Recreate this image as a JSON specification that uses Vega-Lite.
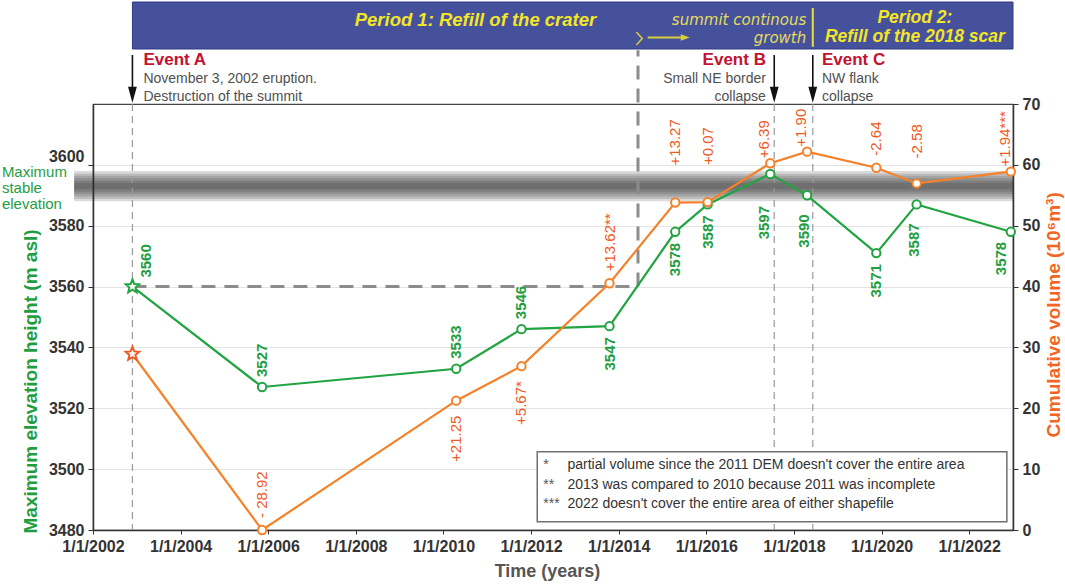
{
  "$schema": "https://vega.github.io/schema/vega-lite/v6.json",
  "width": 920,
  "height": 426,
  "autosize": {"type": "none"},
  "padding": {"left": 93, "top": 104, "right": 52, "bottom": 54},
  "background": "white",
  "config": {
    "font": "Liberation Sans",
    "view": {"stroke": "#444", "strokeWidth": 1.2},
    "axisX": {
      "labelFontSize": 16, "labelFontWeight": "bold", "labelColor": "#333",
      "labelDx": 20, "labelPadding": 4, "labelFlush": false, "labelOverlap": false, "labelBound": false,
      "tickSize": 4, "tickColor": "#333", "domainColor": "#333", "domainWidth": 1.5, "grid": false,
      "titleFontSize": 18, "titleFontWeight": "bold", "titleColor": "#555",
      "titleX": 454, "titleY": 41, "titleBaseline": "middle"
    }
  },
  "datasets": {
    "pts": [
      {"id": 1, "t": 2002.90, "elev": 3560, "vol": 28.92, "volLabel": ""},
      {"id": 2, "t": 2005.86, "elev": 3527, "vol": 0, "volLabel": "- 28.92"},
      {"id": 3, "t": 2010.29, "elev": 3533, "vol": 21.25, "volLabel": "+21.25"},
      {"id": 4, "t": 2011.78, "elev": 3546, "vol": 26.92, "volLabel": "+5.67*"},
      {"id": 5, "t": 2013.79, "elev": 3547, "vol": 40.54, "volLabel": "+13.62**"},
      {"id": 6, "t": 2015.29, "elev": 3578, "vol": 53.81, "volLabel": "+13.27"},
      {"id": 7, "t": 2016.03, "elev": 3587, "vol": 53.88, "volLabel": "+0.07"},
      {"id": 8, "t": 2017.46, "elev": 3597, "vol": 60.27, "volLabel": "+6.39"},
      {"id": 9, "t": 2018.30, "elev": 3590, "vol": 62.17, "volLabel": "+1.90"},
      {"id": 10, "t": 2019.88, "elev": 3571, "vol": 59.53, "volLabel": "-2.64"},
      {"id": 11, "t": 2020.80, "elev": 3587, "vol": 56.95, "volLabel": "-2.58"},
      {"id": 12, "t": 2022.95, "elev": 3578, "vol": 58.89, "volLabel": "+1.94***"}
    ],
    "events": [
      {"event": "A", "t": 2002.90},
      {"event": "B", "t": 2017.55},
      {"event": "C", "t": 2018.43}
    ],
    "band": [
      {"t1": 2001.57, "t2": 2023.0, "lo": 3588.0, "hi": 3598.0},
      {"t1": 2001.57, "t2": 2023.0, "lo": 3588.8, "hi": 3597.2},
      {"t1": 2001.57, "t2": 2023.0, "lo": 3589.6, "hi": 3596.4},
      {"t1": 2001.57, "t2": 2023.0, "lo": 3590.4, "hi": 3595.6},
      {"t1": 2001.57, "t2": 2023.0, "lo": 3591.2, "hi": 3594.8},
      {"t1": 2001.57, "t2": 2023.0, "lo": 3592.0, "hi": 3594.0}
    ],
    "boxes": [
      {"kind": "footbox", "t1": 2012.14, "t2": 2022.86, "lo": 3482.73, "hi": 3505.73},
      {"kind": "banner", "t1": 2002.90, "t2": 2023.0, "lo": 3638.07, "hi": 3653.52}
    ],
    "segs": [
      {"kind": "period", "t1": 2002.90, "t2": 2014.44, "y1": 3560, "y2": 3560},
      {"kind": "period", "t1": 2014.44, "t2": 2014.44, "y1": 3560, "y2": 3637.7},
      {"kind": "divider", "t1": 2018.43, "t2": 2018.43, "y1": 3638.8, "y2": 3651.55},
      {"kind": "barrow", "t1": 2014.66, "t2": 2015.49, "y1": 3641.85, "y2": 3641.85},
      {"kind": "earrow", "t1": 2002.90, "t2": 2002.90, "y1": 3636.1, "y2": 3624.5},
      {"kind": "earrow", "t1": 2017.55, "t2": 2017.55, "y1": 3636.1, "y2": 3624.5},
      {"kind": "earrow", "t1": 2018.43, "t2": 2018.43, "y1": 3636.1, "y2": 3624.5}
    ],
    "symbols": [
      {"kind": "ehead", "t": 2002.90, "v": 3623.0},
      {"kind": "ehead", "t": 2017.55, "v": 3623.0},
      {"kind": "ehead", "t": 2018.43, "v": 3623.0},
      {"kind": "bhead", "t": 2015.52, "v": 3641.85},
      {"kind": "chev", "t": 2014.47, "v": 3641.52}
    ],
    "notes": [
      {"kind": "p1", "t": 2010.73, "v": 3647.6, "text": "Period 1: Refill of the crater"},
      {"kind": "p2", "t": 2020.76, "v": 3648.26, "text": "Period 2:"},
      {"kind": "p2", "t": 2020.76, "v": 3642.02, "text": "Refill of the 2018 scar"},
      {"kind": "grow", "t": 2018.28, "v": 3647.6, "text": "summit continous"},
      {"kind": "grow", "t": 2018.28, "v": 3641.69, "text": "growth"},
      {"kind": "evL", "t": 2003.15, "v": 3634.46, "text": "Event A"},
      {"kind": "descL", "t": 2003.15, "v": 3628.21, "text": "November 3, 2002 eruption."},
      {"kind": "descL", "t": 2003.15, "v": 3622.3, "text": "Destruction of the summit"},
      {"kind": "evR", "t": 2017.36, "v": 3634.46, "text": "Event B"},
      {"kind": "descR", "t": 2017.36, "v": 3628.21, "text": "Small NE border"},
      {"kind": "descR", "t": 2017.36, "v": 3622.3, "text": "collapse"},
      {"kind": "evL", "t": 2018.64, "v": 3634.46, "text": "Event C"},
      {"kind": "descL", "t": 2018.64, "v": 3628.21, "text": "NW flank"},
      {"kind": "descL", "t": 2018.64, "v": 3622.3, "text": "collapse"},
      {"kind": "stable", "t": 1999.92, "v": 3597.65, "text": "Maximum"},
      {"kind": "stable", "t": 1999.92, "v": 3592.39, "text": "stable"},
      {"kind": "stable", "t": 1999.92, "v": 3587.13, "text": "elevation"},
      {"kind": "fmark", "t": 2012.28, "v": 3501.36, "text": "*"},
      {"kind": "fmark", "t": 2012.28, "v": 3494.95, "text": "**"},
      {"kind": "fmark", "t": 2012.28, "v": 3488.54, "text": "***"},
      {"kind": "ftext", "t": 2012.83, "v": 3501.36, "text": "partial volume since the 2011 DEM doesn't cover the entire area"},
      {"kind": "ftext", "t": 2012.83, "v": 3494.95, "text": "2013 was compared to 2010 because 2011 was incomplete"},
      {"kind": "ftext", "t": 2012.83, "v": 3488.54, "text": "2022 doesn't cover the entire area of either shapefile"}
    ]
  },
  "layer": [
    {
      "data": {"name": "band"},
      "mark": {"type": "rect", "fill": "#2a2a2a", "fillOpacity": 0.17},
      "encoding": {
        "x": {"field": "t1", "type": "quantitative",
          "scale": {"domain": [2002, 2023], "nice": false, "zero": false},
          "axis": {
            "values": [2002, 2004, 2006, 2008, 2010, 2012, 2014, 2016, 2018, 2020, 2022],
            "labelExpr": "'1/1/' + datum.value",
            "title": "Time (years)"
          }
        },
        "x2": {"field": "t2"},
        "y": {"field": "hi", "type": "quantitative", "scale": {"domain": [3480, 3620], "nice": false, "zero": false}, "axis": null},
        "y2": {"field": "lo"}
      }
    },
    {
      "data": {"name": "events"},
      "mark": {"type": "rule", "color": "#9a9a9a", "strokeWidth": 1.2, "strokeDash": [7, 5]},
      "encoding": {
        "x": {"field": "t", "type": "quantitative", "scale": {"domain": [2002, 2023], "nice": false, "zero": false}}
      }
    },
    {
      "data": {"name": "segs"},
      "transform": [{"filter": "datum.kind === 'period'"}],
      "mark": {"type": "rule", "color": "#8c8c8c", "strokeWidth": 3, "strokeDash": [14, 9]},
      "encoding": {
        "x": {"field": "t1", "type": "quantitative", "scale": {"domain": [2002, 2023], "nice": false, "zero": false}},
        "x2": {"field": "t2"},
        "y": {"field": "y1", "type": "quantitative", "scale": {"domain": [3480, 3620], "nice": false, "zero": false}, "axis": null},
        "y2": {"field": "y2"}
      }
    },
    {
      "data": {"name": "boxes"},
      "transform": [{"filter": "datum.kind === 'footbox'"}],
      "mark": {"type": "rect", "fill": "white", "stroke": "#707070", "strokeWidth": 1.5},
      "encoding": {
        "x": {"field": "t1", "type": "quantitative", "scale": {"domain": [2002, 2023], "nice": false, "zero": false}},
        "x2": {"field": "t2"},
        "y": {"field": "hi", "type": "quantitative", "scale": {"domain": [3480, 3620], "nice": false, "zero": false}, "axis": null},
        "y2": {"field": "lo"}
      }
    },
    {
      "data": {"name": "notes"},
      "transform": [{"filter": "datum.kind === 'fmark'"}],
      "mark": {"type": "text", "align": "left", "baseline": "middle", "fontSize": 14, "fill": "#555"},
      "encoding": {
        "x": {"field": "t", "type": "quantitative", "scale": {"domain": [2002, 2023], "nice": false, "zero": false}},
        "y": {"field": "v", "type": "quantitative", "scale": {"domain": [3480, 3620], "nice": false, "zero": false}, "axis": null},
        "text": {"field": "text"}
      }
    },
    {
      "data": {"name": "notes"},
      "transform": [{"filter": "datum.kind === 'ftext'"}],
      "mark": {"type": "text", "align": "left", "baseline": "middle", "fontSize": 14, "fill": "#333"},
      "encoding": {
        "x": {"field": "t", "type": "quantitative", "scale": {"domain": [2002, 2023], "nice": false, "zero": false}},
        "y": {"field": "v", "type": "quantitative", "scale": {"domain": [3480, 3620], "nice": false, "zero": false}, "axis": null},
        "text": {"field": "text"}
      }
    },
    {
      "data": {"name": "pts"},
      "mark": {"type": "line", "color": "#22a443", "strokeWidth": 2.2},
      "encoding": {
        "x": {"field": "t", "type": "quantitative", "scale": {"domain": [2002, 2023], "nice": false, "zero": false}},
        "y": {"field": "elev", "type": "quantitative",
          "scale": {"domain": [3480, 3620], "nice": false, "zero": false},
          "axis": {
            "orient": "left",
            "values": [3480, 3500, 3520, 3540, 3560, 3580, 3600],
            "format": "d",
            "labelFontSize": 16, "labelFontWeight": "bold", "labelColor": "#333", "labelPadding": 4,
            "labelBaseline": {"condition": {"test": "datum.value === 3600", "value": "bottom"}, "value": "middle"},
            "tickSize": 5, "tickColor": "#333", "domainColor": "#333", "domainWidth": 1.5,
            "grid": true, "gridColor": "#e4e4e4", "gridWidth": 1,
            "title": "Maximum elevation height (m asl)", "titleColor": "#1f9e3f", "titleFontSize": 19, "titleFontWeight": "bold",
            "titleAngle": 270, "titleX": -63, "titleY": 429, "titleAlign": "left", "titleBaseline": "middle"
          }
        }
      }
    },
    {
      "data": {"name": "pts"},
      "mark": {"type": "line", "color": "#f5822a", "strokeWidth": 2.2},
      "encoding": {
        "x": {"field": "t", "type": "quantitative", "scale": {"domain": [2002, 2023], "nice": false, "zero": false}},
        "y": {"field": "vol", "type": "quantitative",
          "scale": {"domain": [0, 70], "nice": false, "zero": false},
          "axis": {
            "orient": "right",
            "values": [0, 10, 20, 30, 40, 50, 60, 70],
            "labelFontSize": 16, "labelFontWeight": "bold", "labelColor": "#333", "labelPadding": 4,
            "tickSize": 5, "tickColor": "#333", "domainColor": "#333", "domainWidth": 1.5, "grid": false,
            "title": "Cumulative volume (10⁶m³)", "titleColor": "#f26522", "titleFontSize": 19, "titleFontWeight": "bold",
            "titleAngle": 270, "titleX": 40, "titleY": 333, "titleAlign": "left", "titleBaseline": "middle"
          }
        }
      }
    },
    {
      "data": {"name": "pts"},
      "transform": [{"filter": {"field": "id", "gt": 1}}],
      "mark": {"type": "point", "shape": "circle", "filled": true, "fill": "white", "stroke": "#22a443", "strokeWidth": 2, "size": 70, "opacity": 1},
      "encoding": {
        "x": {"field": "t", "type": "quantitative", "scale": {"domain": [2002, 2023], "nice": false, "zero": false}},
        "y": {"field": "elev", "type": "quantitative", "scale": {"domain": [3480, 3620], "nice": false, "zero": false}, "axis": null}
      }
    },
    {
      "data": {"name": "pts"},
      "transform": [{"filter": {"field": "id", "gt": 1}}],
      "mark": {"type": "point", "shape": "circle", "filled": true, "fill": "white", "stroke": "#f5822a", "strokeWidth": 2, "size": 70, "opacity": 1},
      "encoding": {
        "x": {"field": "t", "type": "quantitative", "scale": {"domain": [2002, 2023], "nice": false, "zero": false}},
        "y": {"field": "vol", "type": "quantitative", "scale": {"domain": [0, 70], "nice": false, "zero": false}, "axis": null}
      }
    },
    {
      "data": {"name": "pts"},
      "transform": [{"filter": {"field": "id", "equal": 1}}],
      "mark": {"type": "point", "shape": "M0,-1L0.265,-0.365L0.951,-0.309L0.428,0.139L0.588,0.809L0,0.45L-0.588,0.809L-0.428,0.139L-0.951,-0.309L-0.265,-0.365Z", "filled": true, "fill": "white", "stroke": "#22a443", "strokeWidth": 2, "size": 200, "opacity": 1},
      "encoding": {
        "x": {"field": "t", "type": "quantitative", "scale": {"domain": [2002, 2023], "nice": false, "zero": false}},
        "y": {"field": "elev", "type": "quantitative", "scale": {"domain": [3480, 3620], "nice": false, "zero": false}, "axis": null}
      }
    },
    {
      "data": {"name": "pts"},
      "transform": [{"filter": {"field": "id", "equal": 1}}],
      "mark": {"type": "point", "shape": "M0,-1L0.265,-0.365L0.951,-0.309L0.428,0.139L0.588,0.809L0,0.45L-0.588,0.809L-0.428,0.139L-0.951,-0.309L-0.265,-0.365Z", "filled": true, "fill": "white", "stroke": "#ee5a24", "strokeWidth": 2, "size": 200, "opacity": 1},
      "encoding": {
        "x": {"field": "t", "type": "quantitative", "scale": {"domain": [2002, 2023], "nice": false, "zero": false}},
        "y": {"field": "vol", "type": "quantitative", "scale": {"domain": [0, 70], "nice": false, "zero": false}, "axis": null}
      }
    },
    {
      "data": {"name": "pts"},
      "transform": [{"filter": {"field": "id", "equal": 1}}],
      "mark": {"type": "text", "angle": 270, "align": "left", "baseline": "middle", "dx": 9, "dy": 14, "fontSize": 15, "fontWeight": "bold", "fill": "#1f9e3f"},
      "encoding": {
        "x": {"field": "t", "type": "quantitative", "scale": {"domain": [2002, 2023], "nice": false, "zero": false}},
        "y": {"field": "elev", "type": "quantitative", "scale": {"domain": [3480, 3620], "nice": false, "zero": false}, "axis": null},
        "text": {"field": "elev", "type": "quantitative", "format": "d"}
      }
    },
    {
      "data": {"name": "pts"},
      "transform": [{"filter": {"field": "id", "oneOf": [2, 3, 4]}}],
      "mark": {"type": "text", "angle": 270, "align": "left", "baseline": "middle", "dx": 10, "fontSize": 15, "fontWeight": "bold", "fill": "#1f9e3f"},
      "encoding": {
        "x": {"field": "t", "type": "quantitative", "scale": {"domain": [2002, 2023], "nice": false, "zero": false}},
        "y": {"field": "elev", "type": "quantitative", "scale": {"domain": [3480, 3620], "nice": false, "zero": false}, "axis": null},
        "text": {"field": "elev", "type": "quantitative", "format": "d"}
      }
    },
    {
      "data": {"name": "pts"},
      "transform": [{"filter": {"field": "id", "oneOf": [5, 6, 7, 10]}}],
      "mark": {"type": "text", "angle": 270, "align": "right", "baseline": "middle", "dx": -11, "fontSize": 15, "fontWeight": "bold", "fill": "#1f9e3f"},
      "encoding": {
        "x": {"field": "t", "type": "quantitative", "scale": {"domain": [2002, 2023], "nice": false, "zero": false}},
        "y": {"field": "elev", "type": "quantitative", "scale": {"domain": [3480, 3620], "nice": false, "zero": false}, "axis": null},
        "text": {"field": "elev", "type": "quantitative", "format": "d"}
      }
    },
    {
      "data": {"name": "pts"},
      "transform": [{"filter": {"field": "id", "oneOf": [9, 11]}}],
      "mark": {"type": "text", "angle": 270, "align": "right", "baseline": "middle", "dx": -19, "dy": -3, "fontSize": 15, "fontWeight": "bold", "fill": "#1f9e3f"},
      "encoding": {
        "x": {"field": "t", "type": "quantitative", "scale": {"domain": [2002, 2023], "nice": false, "zero": false}},
        "y": {"field": "elev", "type": "quantitative", "scale": {"domain": [3480, 3620], "nice": false, "zero": false}, "axis": null},
        "text": {"field": "elev", "type": "quantitative", "format": "d"}
      }
    },
    {
      "data": {"name": "pts"},
      "transform": [{"filter": {"field": "id", "equal": 8}}],
      "mark": {"type": "text", "angle": 270, "align": "right", "baseline": "middle", "dx": -32, "dy": -6, "fontSize": 15, "fontWeight": "bold", "fill": "#1f9e3f"},
      "encoding": {
        "x": {"field": "t", "type": "quantitative", "scale": {"domain": [2002, 2023], "nice": false, "zero": false}},
        "y": {"field": "elev", "type": "quantitative", "scale": {"domain": [3480, 3620], "nice": false, "zero": false}, "axis": null},
        "text": {"field": "elev", "type": "quantitative", "format": "d"}
      }
    },
    {
      "data": {"name": "pts"},
      "transform": [{"filter": {"field": "id", "equal": 12}}],
      "mark": {"type": "text", "angle": 270, "align": "right", "baseline": "middle", "dx": -10, "dy": -10, "fontSize": 15, "fontWeight": "bold", "fill": "#1f9e3f"},
      "encoding": {
        "x": {"field": "t", "type": "quantitative", "scale": {"domain": [2002, 2023], "nice": false, "zero": false}},
        "y": {"field": "elev", "type": "quantitative", "scale": {"domain": [3480, 3620], "nice": false, "zero": false}, "axis": null},
        "text": {"field": "elev", "type": "quantitative", "format": "d"}
      }
    },
    {
      "data": {"name": "pts"},
      "transform": [{"filter": {"field": "id", "oneOf": [2, 5, 10]}}],
      "mark": {"type": "text", "angle": 270, "align": "left", "baseline": "middle", "dx": 12, "fontSize": 15, "fill": "#ef5a24"},
      "encoding": {
        "x": {"field": "t", "type": "quantitative", "scale": {"domain": [2002, 2023], "nice": false, "zero": false}},
        "y": {"field": "vol", "type": "quantitative", "scale": {"domain": [0, 70], "nice": false, "zero": false}, "axis": null},
        "text": {"field": "volLabel"}
      }
    },
    {
      "data": {"name": "pts"},
      "transform": [{"filter": {"field": "id", "oneOf": [6, 7]}}],
      "mark": {"type": "text", "angle": 270, "align": "left", "baseline": "middle", "dx": 37, "fontSize": 15, "fill": "#ef5a24"},
      "encoding": {
        "x": {"field": "t", "type": "quantitative", "scale": {"domain": [2002, 2023], "nice": false, "zero": false}},
        "y": {"field": "vol", "type": "quantitative", "scale": {"domain": [0, 70], "nice": false, "zero": false}, "axis": null},
        "text": {"field": "volLabel"}
      }
    },
    {
      "data": {"name": "pts"},
      "transform": [{"filter": {"field": "id", "equal": 11}}],
      "mark": {"type": "text", "angle": 270, "align": "left", "baseline": "middle", "dx": 25, "fontSize": 15, "fill": "#ef5a24"},
      "encoding": {
        "x": {"field": "t", "type": "quantitative", "scale": {"domain": [2002, 2023], "nice": false, "zero": false}},
        "y": {"field": "vol", "type": "quantitative", "scale": {"domain": [0, 70], "nice": false, "zero": false}, "axis": null},
        "text": {"field": "volLabel"}
      }
    },
    {
      "data": {"name": "pts"},
      "transform": [{"filter": {"field": "id", "oneOf": [8, 9, 12]}}],
      "mark": {"type": "text", "angle": 270, "align": "left", "baseline": "middle", "dx": 5, "dy": -6, "fontSize": 15, "fill": "#ef5a24"},
      "encoding": {
        "x": {"field": "t", "type": "quantitative", "scale": {"domain": [2002, 2023], "nice": false, "zero": false}},
        "y": {"field": "vol", "type": "quantitative", "scale": {"domain": [0, 70], "nice": false, "zero": false}, "axis": null},
        "text": {"field": "volLabel"}
      }
    },
    {
      "data": {"name": "pts"},
      "transform": [{"filter": {"field": "id", "oneOf": [3, 4]}}],
      "mark": {"type": "text", "angle": 270, "align": "right", "baseline": "middle", "dx": -15, "fontSize": 15, "fill": "#ef5a24"},
      "encoding": {
        "x": {"field": "t", "type": "quantitative", "scale": {"domain": [2002, 2023], "nice": false, "zero": false}},
        "y": {"field": "vol", "type": "quantitative", "scale": {"domain": [0, 70], "nice": false, "zero": false}, "axis": null},
        "text": {"field": "volLabel"}
      }
    },
    {
      "data": {"name": "boxes"},
      "transform": [{"filter": "datum.kind === 'banner'"}],
      "mark": {"type": "rect", "fill": "#46519c", "stroke": "#2e3a86", "strokeWidth": 1},
      "encoding": {
        "x": {"field": "t1", "type": "quantitative", "scale": {"domain": [2002, 2023], "nice": false, "zero": false}},
        "x2": {"field": "t2"},
        "y": {"field": "hi", "type": "quantitative", "scale": {"domain": [3480, 3620], "nice": false, "zero": false}, "axis": null},
        "y2": {"field": "lo"}
      }
    },
    {
      "data": {"name": "segs"},
      "transform": [{"filter": "datum.kind === 'divider'"}],
      "mark": {"type": "rule", "color": "#e8df3a", "strokeWidth": 2},
      "encoding": {
        "x": {"field": "t1", "type": "quantitative", "scale": {"domain": [2002, 2023], "nice": false, "zero": false}},
        "x2": {"field": "t2"},
        "y": {"field": "y1", "type": "quantitative", "scale": {"domain": [3480, 3620], "nice": false, "zero": false}, "axis": null},
        "y2": {"field": "y2"}
      }
    },
    {
      "data": {"name": "segs"},
      "transform": [{"filter": "datum.kind === 'barrow'"}],
      "mark": {"type": "rule", "color": "#d6cd3a", "strokeWidth": 2},
      "encoding": {
        "x": {"field": "t1", "type": "quantitative", "scale": {"domain": [2002, 2023], "nice": false, "zero": false}},
        "x2": {"field": "t2"},
        "y": {"field": "y1", "type": "quantitative", "scale": {"domain": [3480, 3620], "nice": false, "zero": false}, "axis": null},
        "y2": {"field": "y2"}
      }
    },
    {
      "data": {"name": "symbols"},
      "transform": [{"filter": "datum.kind === 'bhead'"}],
      "mark": {"type": "point", "shape": "M-1,-0.7L1,0L-1,0.7Z", "filled": true, "color": "#d6cd3a", "size": 81, "opacity": 1},
      "encoding": {
        "x": {"field": "t", "type": "quantitative", "scale": {"domain": [2002, 2023], "nice": false, "zero": false}},
        "y": {"field": "v", "type": "quantitative", "scale": {"domain": [3480, 3620], "nice": false, "zero": false}, "axis": null}
      }
    },
    {
      "data": {"name": "symbols"},
      "transform": [{"filter": "datum.kind === 'chev'"}],
      "mark": {"type": "point", "shape": "M-0.45,-1L0.45,0L-0.45,1", "filled": false, "stroke": "#d6cd3a", "strokeWidth": 1.5, "size": 169, "opacity": 1},
      "encoding": {
        "x": {"field": "t", "type": "quantitative", "scale": {"domain": [2002, 2023], "nice": false, "zero": false}},
        "y": {"field": "v", "type": "quantitative", "scale": {"domain": [3480, 3620], "nice": false, "zero": false}, "axis": null}
      }
    },
    {
      "data": {"name": "notes"},
      "transform": [{"filter": "datum.kind === 'p1'"}],
      "mark": {"type": "text", "align": "center", "baseline": "middle", "fontSize": 18.5, "fontWeight": "bold", "fontStyle": "italic", "fill": "#f3e626"},
      "encoding": {
        "x": {"field": "t", "type": "quantitative", "scale": {"domain": [2002, 2023], "nice": false, "zero": false}},
        "y": {"field": "v", "type": "quantitative", "scale": {"domain": [3480, 3620], "nice": false, "zero": false}, "axis": null},
        "text": {"field": "text"}
      }
    },
    {
      "data": {"name": "notes"},
      "transform": [{"filter": "datum.kind === 'p2'"}],
      "mark": {"type": "text", "align": "center", "baseline": "middle", "fontSize": 17.5, "fontWeight": "bold", "fontStyle": "italic", "fill": "#f3e626"},
      "encoding": {
        "x": {"field": "t", "type": "quantitative", "scale": {"domain": [2002, 2023], "nice": false, "zero": false}},
        "y": {"field": "v", "type": "quantitative", "scale": {"domain": [3480, 3620], "nice": false, "zero": false}, "axis": null},
        "text": {"field": "text"}
      }
    },
    {
      "data": {"name": "notes"},
      "transform": [{"filter": "datum.kind === 'grow'"}],
      "mark": {"type": "text", "align": "right", "baseline": "middle", "font": "DejaVu Sans", "fontSize": 15, "fontStyle": "italic", "fill": "#e4dc5c"},
      "encoding": {
        "x": {"field": "t", "type": "quantitative", "scale": {"domain": [2002, 2023], "nice": false, "zero": false}},
        "y": {"field": "v", "type": "quantitative", "scale": {"domain": [3480, 3620], "nice": false, "zero": false}, "axis": null},
        "text": {"field": "text"}
      }
    },
    {
      "data": {"name": "segs"},
      "transform": [{"filter": "datum.kind === 'earrow'"}],
      "mark": {"type": "rule", "color": "#111", "strokeWidth": 1.6},
      "encoding": {
        "x": {"field": "t1", "type": "quantitative", "scale": {"domain": [2002, 2023], "nice": false, "zero": false}},
        "x2": {"field": "t2"},
        "y": {"field": "y1", "type": "quantitative", "scale": {"domain": [3480, 3620], "nice": false, "zero": false}, "axis": null},
        "y2": {"field": "y2"}
      }
    },
    {
      "data": {"name": "symbols"},
      "transform": [{"filter": "datum.kind === 'ehead'"}],
      "mark": {"type": "point", "shape": "M-0.55,-1L0.55,-1L0,1Z", "filled": true, "color": "#111", "size": 256, "opacity": 1},
      "encoding": {
        "x": {"field": "t", "type": "quantitative", "scale": {"domain": [2002, 2023], "nice": false, "zero": false}},
        "y": {"field": "v", "type": "quantitative", "scale": {"domain": [3480, 3620], "nice": false, "zero": false}, "axis": null}
      }
    },
    {
      "data": {"name": "notes"},
      "transform": [{"filter": "datum.kind === 'evL'"}],
      "mark": {"type": "text", "align": "left", "baseline": "middle", "fontSize": 17, "fontWeight": "bold", "fill": "#c41230"},
      "encoding": {
        "x": {"field": "t", "type": "quantitative", "scale": {"domain": [2002, 2023], "nice": false, "zero": false}},
        "y": {"field": "v", "type": "quantitative", "scale": {"domain": [3480, 3620], "nice": false, "zero": false}, "axis": null},
        "text": {"field": "text"}
      }
    },
    {
      "data": {"name": "notes"},
      "transform": [{"filter": "datum.kind === 'evR'"}],
      "mark": {"type": "text", "align": "right", "baseline": "middle", "fontSize": 17, "fontWeight": "bold", "fill": "#c41230"},
      "encoding": {
        "x": {"field": "t", "type": "quantitative", "scale": {"domain": [2002, 2023], "nice": false, "zero": false}},
        "y": {"field": "v", "type": "quantitative", "scale": {"domain": [3480, 3620], "nice": false, "zero": false}, "axis": null},
        "text": {"field": "text"}
      }
    },
    {
      "data": {"name": "notes"},
      "transform": [{"filter": "datum.kind === 'descL'"}],
      "mark": {"type": "text", "align": "left", "baseline": "middle", "fontSize": 14, "fill": "#505050"},
      "encoding": {
        "x": {"field": "t", "type": "quantitative", "scale": {"domain": [2002, 2023], "nice": false, "zero": false}},
        "y": {"field": "v", "type": "quantitative", "scale": {"domain": [3480, 3620], "nice": false, "zero": false}, "axis": null},
        "text": {"field": "text"}
      }
    },
    {
      "data": {"name": "notes"},
      "transform": [{"filter": "datum.kind === 'descR'"}],
      "mark": {"type": "text", "align": "right", "baseline": "middle", "fontSize": 14, "fill": "#505050"},
      "encoding": {
        "x": {"field": "t", "type": "quantitative", "scale": {"domain": [2002, 2023], "nice": false, "zero": false}},
        "y": {"field": "v", "type": "quantitative", "scale": {"domain": [3480, 3620], "nice": false, "zero": false}, "axis": null},
        "text": {"field": "text"}
      }
    },
    {
      "data": {"name": "notes"},
      "transform": [{"filter": "datum.kind === 'stable'"}],
      "mark": {"type": "text", "align": "left", "baseline": "middle", "fontSize": 15, "fill": "#1f9e3f"},
      "encoding": {
        "x": {"field": "t", "type": "quantitative", "scale": {"domain": [2002, 2023], "nice": false, "zero": false}},
        "y": {"field": "v", "type": "quantitative", "scale": {"domain": [3480, 3620], "nice": false, "zero": false}, "axis": null},
        "text": {"field": "text"}
      }
    }
  ],
  "resolve": {"scale": {"y": "independent"}}
}
